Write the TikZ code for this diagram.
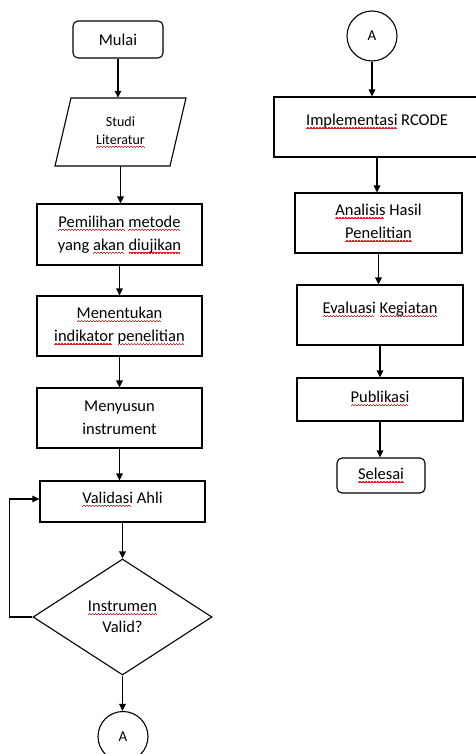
\documentclass[tikz,border=0pt]{standalone}
\usepackage{fontspec}
\setmainfont{Carlito}
\usetikzlibrary{arrows.meta,shapes.geometric}
\definecolor{sqred}{RGB}{215,40,40}
\newcommand\wvbit[1]{\lower#1\hbox{\vrule width .5pt height .65pt depth 0pt}}
\newcommand\wvunit{\hbox{\wvbit{3.4pt}\wvbit{2.9pt}\wvbit{2.4pt}\wvbit{2.4pt}\wvbit{2.9pt}\wvbit{3.4pt}}}
\newcommand\sq[1]{\leavevmode\setbox0\hbox{#1}\rlap{\color{sqred}\hbox to \wd0{\leaders\wvunit\hfill}}\box0\relax}
\begin{document}
\begin{tikzpicture}[x=1pt,y=-1pt,
  txt/.style={align=center, font=\fontsize{16.5}{23}\selectfont, inner sep=1pt},
  box/.style={txt, draw, line width=1.1pt},
  term/.style={box, rounded corners=5pt},
  lift/.style={text height=12pt, text depth=#1},
  arr/.style={-{Triangle[length=7pt,width=6.5pt]}, line width=1.1pt},
  conn/.style={circle, draw, line width=1.1pt, minimum size=50pt, inner sep=0pt, font=\fontsize{15}{18}\selectfont}]
\useasboundingbox[fill=white] (0,0) rectangle (475,754);

% left column
\node[term, minimum width=90pt, minimum height=37pt] (mulai) at (118,39.5) {Mulai};
\node[txt, font=\fontsize{14}{18}\selectfont, minimum width=100pt, minimum height=68pt] (studi) at (120.5,132) {Studi\\\sq{Literatur}};
\draw[line width=1.1pt] (studi.center) ++(-49.5,-34) -- ++(115,0) -- ++(-16,68) -- ++(-115,0) -- cycle;
\node[box, minimum width=165pt, minimum height=61pt] (pilih) at (119.5,234.5) {\sq{Pemilihan} \sq{metode}\\yang \sq{akan} \sq{diujikan}};
\node[box, minimum width=165pt, minimum height=60pt] (tentu) at (119.5,326) {\sq{Menentukan}\\\sq{indikator} \sq{penelitian}};
\node[box, minimum width=165pt, minimum height=60pt] (susun) at (119.5,418) {Menyusun\\instrument};
\node[box, lift=9pt, minimum width=165pt, minimum height=41pt] (val) at (122.5,501.5) {\sq{Validasi} Ahli};
\node[txt, diamond, draw, line width=1.1pt, minimum width=179pt, minimum height=116pt, inner sep=0pt, font=\fontsize{16.5}{21}\selectfont] (dec) at (122.5,617) {\sq{Instrumen}\\Valid?};
\node[conn] (A1) at (123,736.5) {A};

\draw[arr] (mulai.south) -- (mulai.south |- studi.north);
\draw[arr] (studi.south) -- (studi.south |- pilih.north);
\draw[arr] (pilih.south) -- (pilih.south |- tentu.north);
\draw[arr] (tentu.south) -- (tentu.south |- susun.north);
\draw[arr] (susun.south) -- (susun.south |- val.north);
\draw[arr] (val.south) -- (val.south |- dec.north);
\draw[arr] (dec.south) -- (dec.south |- A1.north);
\draw[arr] (dec.west) -- ++(-23,0) |- ([yshift=2.5pt]val.west);

% right column
\node[conn] (A2) at (372,36) {A};
\node[box, lift=15pt, minimum width=206pt, minimum height=60pt] (impl) at (377,127) {\sq{Implementasi} RCODE};
\node[box, minimum width=167pt, minimum height=60pt] (anal) at (378.5,223) {\sq{Analisis} Hasil\\\sq{Penelitian}};
\node[box, lift=15pt, minimum width=166pt, minimum height=60pt] (eval) at (380,315) {\sq{Evaluasi} \sq{Kegiatan}};
\node[box, lift=6pt, minimum width=166pt, minimum height=43pt] (pub) at (380,399.5) {\sq{Publikasi}};
\node[term, minimum width=88pt, minimum height=35pt] (sel) at (381,475.5) {\sq{Selesai}};

\draw[arr] (A2.south) -- (A2.south |- impl.north);
\draw[arr] (impl.south) -- (impl.south |- anal.north);
\draw[arr] (anal.south) -- (anal.south |- eval.north);
\draw[arr] (eval.south) -- (eval.south |- pub.north);
\draw[arr] (pub.south) -- (pub.south |- sel.north);
\end{tikzpicture}
\end{document}
